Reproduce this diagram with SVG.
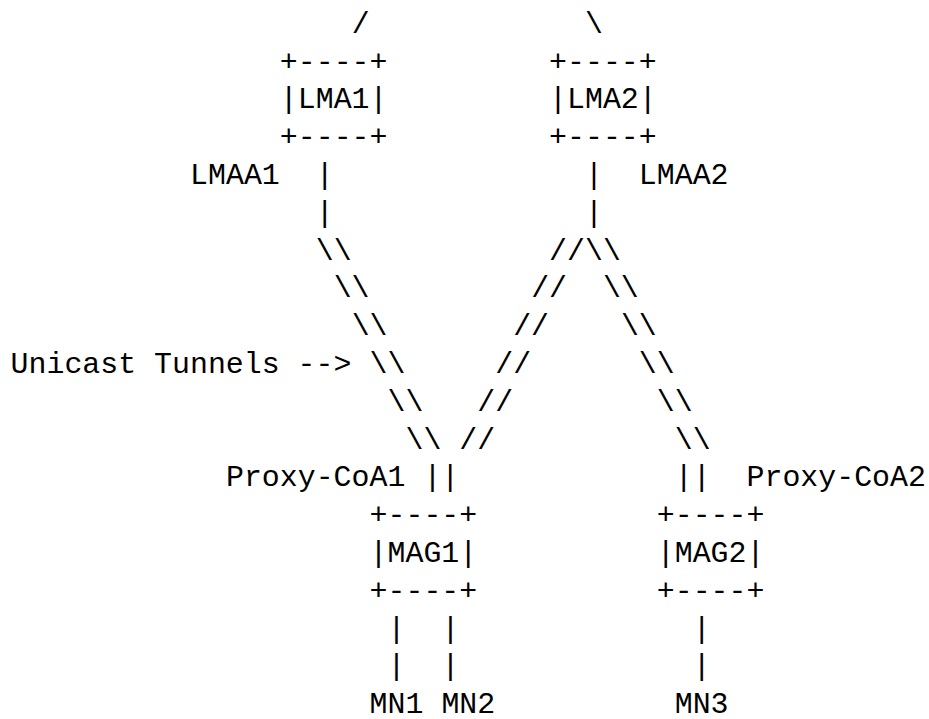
<svg xmlns="http://www.w3.org/2000/svg" width="929" height="719" viewBox="0 0 929 719">
<style>
text{font-family:"Liberation Mono","DejaVu Sans Mono",monospace;font-size:29.9px;fill:#000;white-space:pre}
</style>
<rect width="929" height="719" fill="#fff"/>
<g id="LMA1">
<text x="279.85" y="70.5">+----+</text>
<text x="279.85" y="108.3">|LMA1|</text>
<text x="279.85" y="146.1">+----+</text>
</g>
<g id="LMA2">
<text x="549.1" y="70.5">+----+</text>
<text x="549.1" y="108.3">|LMA2|</text>
<text x="549.1" y="146.1">+----+</text>
</g>
<g id="MAG1">
<text x="369.6" y="524.1">+----+</text>
<text x="369.6" y="561.9">|MAG1|</text>
<text x="369.6" y="599.7">+----+</text>
</g>
<g id="MAG2">
<text x="656.8" y="524.1">+----+</text>
<text x="656.8" y="561.9">|MAG2|</text>
<text x="656.8" y="599.7">+----+</text>
</g>
<g id="MN1"><text x="369.6" y="713.1">MN1</text></g>
<g id="MN2"><text x="441.4" y="713.1">MN2</text></g>
<g id="MN3"><text x="674.75" y="713.1">MN3</text></g>
<g id="labels">
<text x="190.1" y="183.9">LMAA1</text>
<text x="638.85" y="183.9">LMAA2</text>
<text x="10.6" y="372.9">Unicast Tunnels --&gt;</text>
<text x="226.0" y="486.3">Proxy-CoA1</text>
<text x="746.55" y="486.3">Proxy-CoA2</text>
</g>
<g id="connectors">
<text x="351.65" y="32.7">/</text>
<text x="585.0" y="32.7">\</text>
<text x="315.75" y="183.9">|</text>
<text x="585.0" y="183.9">|</text>
<text x="315.75" y="221.7">|</text>
<text x="585.0" y="221.7">|</text>
<text x="315.75" y="259.5">\\</text>
<text x="549.1" y="259.5">//\\</text>
<text x="333.7" y="297.3">\\</text>
<text x="531.15" y="297.3">//</text>
<text x="602.95" y="297.3">\\</text>
<text x="351.65" y="335.1">\\</text>
<text x="513.2" y="335.1">//</text>
<text x="620.9" y="335.1">\\</text>
<text x="369.6" y="372.9">\\</text>
<text x="495.25" y="372.9">//</text>
<text x="638.85" y="372.9">\\</text>
<text x="387.55" y="410.7">\\</text>
<text x="477.3" y="410.7">//</text>
<text x="656.8" y="410.7">\\</text>
<text x="405.5" y="448.5">\\</text>
<text x="459.35" y="448.5">//</text>
<text x="674.75" y="448.5">\\</text>
<text x="423.45" y="486.3">||</text>
<text x="674.75" y="486.3">||</text>
<text x="387.55" y="637.5">|</text>
<text x="441.4" y="637.5">|</text>
<text x="692.7" y="637.5">|</text>
<text x="387.55" y="675.3">|</text>
<text x="441.4" y="675.3">|</text>
<text x="692.7" y="675.3">|</text>
</g>
</svg>
